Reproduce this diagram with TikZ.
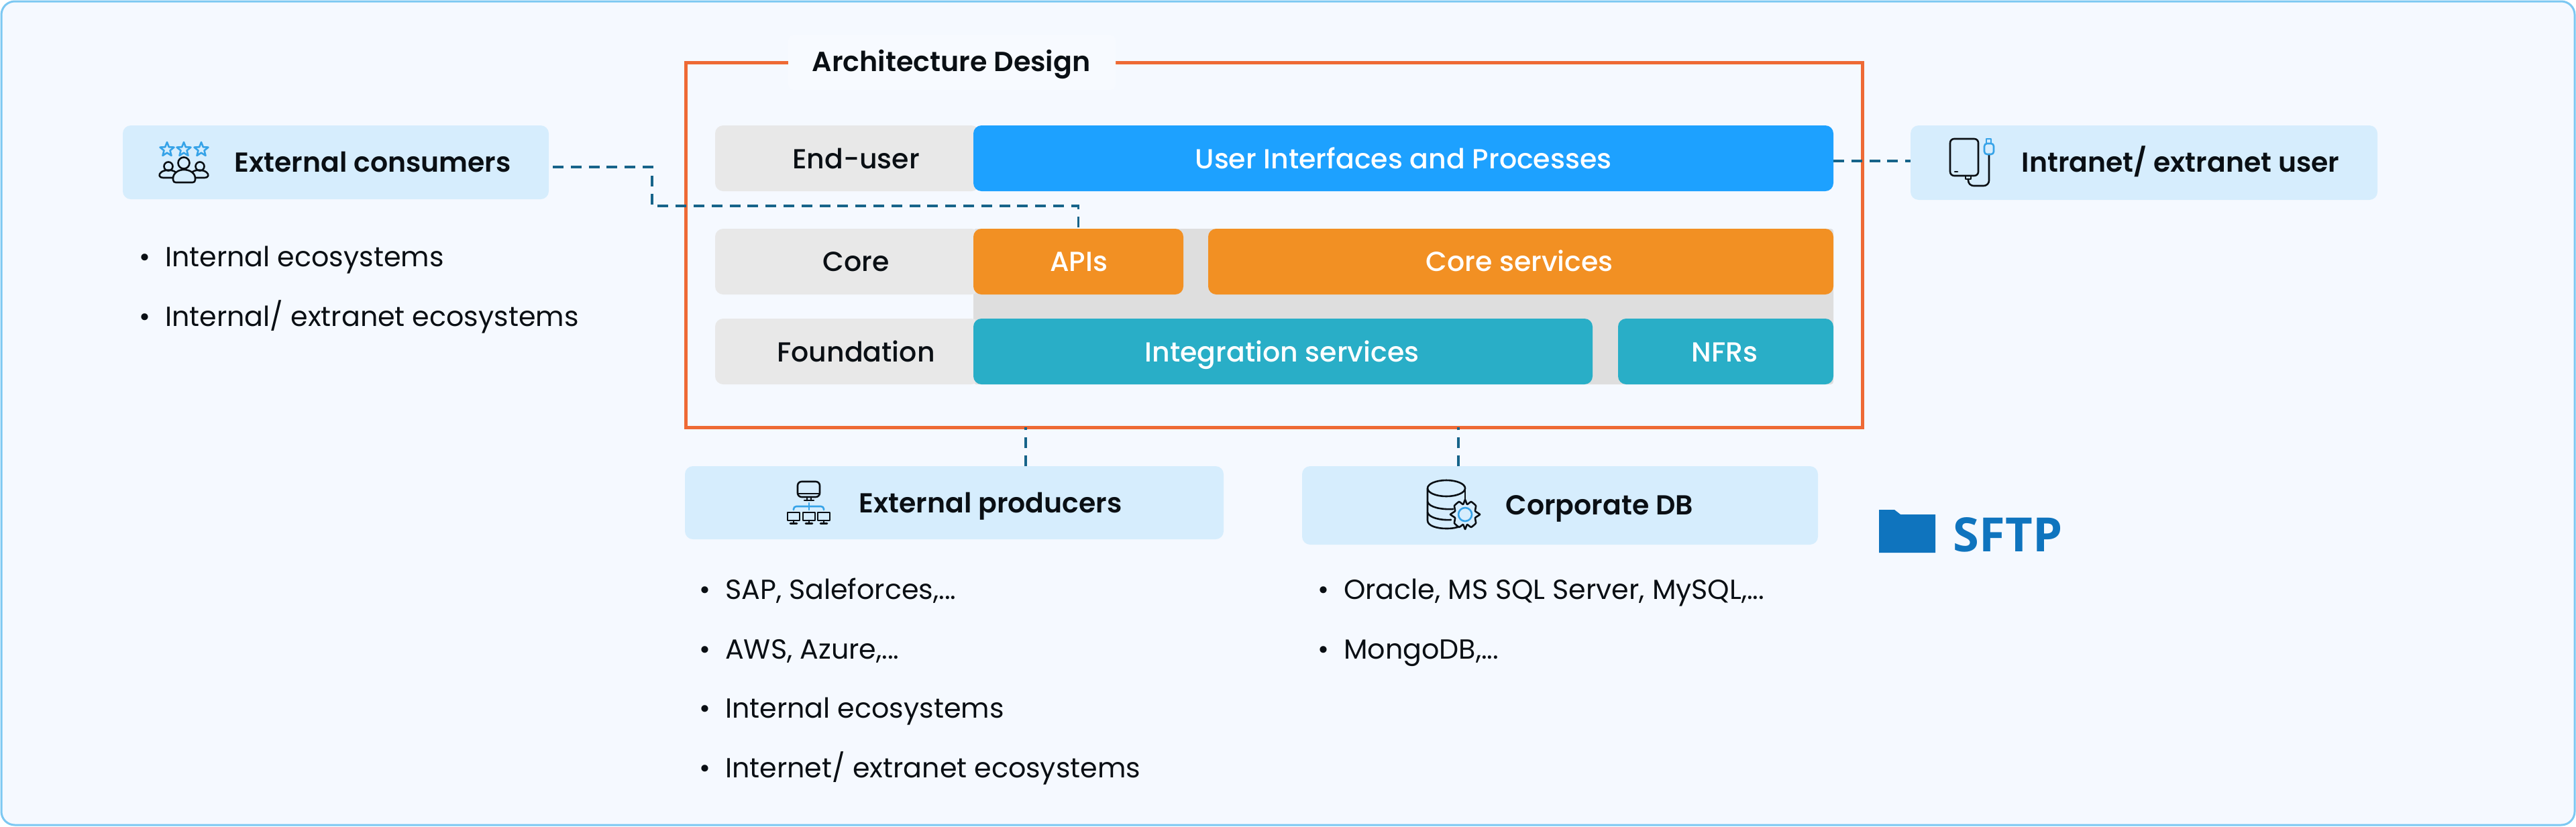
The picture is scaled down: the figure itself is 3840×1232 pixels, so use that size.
\documentclass[tikz,border=0pt]{standalone}
\usepackage{fontspec}
\setmainfont{Poppins}[BoldFont={Poppins SemiBold}]
\newfontfamily\medfont{Poppins Medium}
\newfontfamily\sftpfont{Open Sans}
\usetikzlibrary{fit}
\definecolor{pagebg}{HTML}{F5F9FF}
\definecolor{pageline}{HTML}{7CC8F2}
\definecolor{frameor}{HTML}{EE6A35}
\definecolor{graylab}{HTML}{E8E8E8}
\definecolor{graybk}{HTML}{DEDEDE}
\definecolor{uiblue}{HTML}{1DA1FF}
\definecolor{coreor}{HTML}{F29023}
\definecolor{fdteal}{HTML}{29AEC7}
\definecolor{boxblue}{HTML}{D6EDFD}
\definecolor{dashc}{HTML}{17648A}
\definecolor{inkc}{HTML}{0A0F14}
\definecolor{iconblue}{HTML}{36A3E8}
\definecolor{sftpc}{HTML}{0F74BE}
\definecolor{titlebg}{HTML}{F7FAFF}
\tikzset{
  bx/.style={fit={#1},inner sep=0pt,rounded corners=3pt,outer sep=0pt},
  graybox/.style={fill=graylab},
  backbox/.style={fill=graybk,rounded corners=1pt},
  tealbox/.style={fill=fdteal},
  orbox/.style={fill=coreor},
  blubox/.style={fill=uiblue},
  extbox/.style={fill=boxblue},
  lab/.style={anchor=base,inner sep=0pt,text=inkc,font=\medfont\fontsize{10.27}{12}\selectfont},
  wlab/.style={lab,text=white},
  head/.style={anchor=base west,inner sep=0pt,text=inkc,font=\fontsize{10.24}{12}\selectfont\bfseries},
  bul/.style={anchor=base west,inner sep=0pt,text=inkc,font=\fontsize{10.3}{12}\selectfont},
  conn/.style={draw=dashc,line width=0.85pt,dash pattern=on 4pt off 2.7pt},
  ic/.style={draw=inkc,line width=0.65pt,line join=round,line cap=round},
  icb/.style={draw=iconblue,line width=0.65pt,line join=round,line cap=round},
}
\newcommand{\bu}[1]{\makebox[9.6pt][l]{•}#1}
\begin{document}
\begin{tikzpicture}[x=0.25pt,y=-0.25pt]
\useasboundingbox (0,0) rectangle (3840,1232);
\fill[white] (0,0) rectangle (3840,1232);
\draw[fill=pagebg,draw=pageline,line width=0.75pt,rounded corners=5pt] (2,2) rectangle (3838,1230);
% frame
\node[bx={(1022,93) (2776,637)},draw=frameor,line width=1.25pt,rounded corners=0pt] (frame) {};
\node[bx={(1175,52) (1663,134)},fill=titlebg,rounded corners=2pt] (titlebox) {};
\node[anchor=base,inner sep=0pt,text=inkc,font=\fontsize{10.3}{12}\selectfont\bfseries] (title) at (1418,106) {Architecture Design};
% gray backing
\node[bx={(1451,341) (2733,573)},backbox] (back) {};
\node[bx={(1066,187) (1460,285)},graybox] (gend) {};
\node[bx={(1066,341) (1460,439)},graybox] (gcore) {};
\node[bx={(1066,475) (1460,573)},graybox] (gfound) {};
\node[bx={(1451,187) (2733,285)},blubox] (ui) {};
\node[bx={(1451,341) (1764,439)},orbox] (apis) {};
\node[bx={(1801,341) (2733,439)},orbox] (coresvc) {};
\node[bx={(1451,475) (2374,573)},tealbox] (integ) {};
\node[bx={(2412,475) (2733,573)},tealbox] (nfrs) {};
\node[lab] (l1) at (1276,251) {End-user};
\node[lab] (l2) at (1276,404) {Core};
\node[lab] (l3) at (1276,539) {Foundation};
\node[wlab] (t1) at (2092,251) {User Interfaces and Processes};
\node[wlab] (t2) at (1608,404) {APIs};
\node[wlab] (t3) at (2265,404) {Core services};
\node[wlab] (t4) at (1911,539) {Integration services};
\node[wlab] (t5) at (2571,539) {NFRs};
% external boxes
\node[bx={(183,187) (818,297)},extbox] (consumers) {};
\node[bx={(2848,187) (3544,298)},extbox] (intranet) {};
\node[bx={(1021,695) (1824,804)},extbox] (producers) {};
\node[bx={(1941,695) (2710,812)},extbox] (corpdb) {};
\node[head] (h1) at (349,256) {External consumers};
\node[head] (h2) at (3013,256) {Intranet/ extranet user};
\node[head] (h3) at (1280,764) {External producers};
\node[head] (h4) at (2244,767) {Corporate DB};
% connectors
\coordinate (kneeA) at (972,249);
\coordinate (kneeB) at (972,307);
\coordinate (uiport) at (2733,240);
\draw[conn] ([shift={(6,7)}]consumers.east) -- (kneeA) -- (kneeB) -| (apis.north);
\draw[conn] (uiport) -- (uiport -| intranet.west);
\draw[conn] (1529,695) -- (1529,637);
\draw[conn] (2174,695) -- (2174,637);
% bullets
\node[bul] (b1) at (207,397) {\bu{Internal ecosystems}};
\node[bul] (b2) at (207,486) {\bu{Internal/ extranet ecosystems}};
\node[bul] (b3) at (1042,893) {\bu{SAP, Saleforces,...}};
\node[bul] (b4) at (1042,982) {\bu{AWS, Azure,...}};
\node[bul] (b5) at (1042,1070) {\bu{Internal ecosystems}};
\node[bul] (b6) at (1042,1159) {\bu{Internet/ extranet ecosystems}};
\node[bul] (b7) at (1964,893) {\bu{Oracle, MS SQL Server, MySQL,...}};
\node[bul] (b8) at (1964,982) {\bu{MongoDB,...}};
% icon: consumers
\foreach \cx in {249,274,300}{
  \draw[icb] (\cx,212) -- ({\cx+2.8},{219.2}) -- ({\cx+10.5},{219.6}) -- ({\cx+4.5},{224.4}) -- ({\cx+6.5},{232}) -- (\cx,{227.8}) -- ({\cx-6.5},{232}) -- ({\cx-4.5},{224.4}) -- ({\cx-10.5},{219.6}) -- ({\cx-2.8},{219.2}) -- cycle;
}
\draw[ic] (251,248) circle[radius=6.5];
\draw[ic] (298,248) circle[radius=6.5];
\draw[ic] (262,265) -- (243,265) .. controls (237,265) and (236,260) .. (240,257) .. controls (244,253) and (257,252) .. (262,257);
\draw[ic] (286,265) -- (305,265) .. controls (311,265) and (312,260) .. (308,257) .. controls (304,253) and (291,252) .. (286,257);
\draw[ic] (274,243) circle[radius=8.5];
\draw[ic,fill=boxblue] (258,266) .. controls (258,258) and (266,253) .. (274,253) .. controls (283,253) and (291,258) .. (291,266) -- (291,268) .. controls (291,271) and (289,272) .. (287,272) -- (262,272) .. controls (260,272) and (258,271) .. (258,268) -- cycle;
% icon: intranet
\draw[ic,rounded corners=1.5pt] (2907,207) rectangle (2949,262);
\draw[ic] (2914,256) -- (2918,256);
\draw[ic] (2930,263) -- (2930,267) -- (2938,267) -- (2938,263);
\draw[ic,rounded corners=2pt] (2934,267) -- (2934,277) -- (2965,277) -- (2965,230);
\draw[icb,rounded corners=1pt] (2958,214) rectangle (2972,230);
\draw[icb] (2961,214) -- (2961,207) -- (2968,207) -- (2968,214);
% icon: producers
\draw[ic,rounded corners=1.5pt] (1189,718) rectangle (1222,741);
\draw[ic] (1189,736) -- (1222,736);
\draw[ic] (1203,741) -- (1203,746) (1209,741) -- (1209,746) (1199,746) -- (1213,746);
\draw[icb,rounded corners=1pt] (1183,760) -- (1183,755) -- (1228,755) -- (1228,760);
\draw[icb] (1206,750) -- (1206,760);
\foreach \cx in {1183,1206,1228}{
  \draw[ic] ({\cx-9},764) rectangle ({\cx+9},776);
  \draw[ic] (\cx,776) -- (\cx,780) ({\cx-5},780.5) -- ({\cx+5},780.5);
}
% icon: db
\draw[ic] (2156,728) ellipse[x radius=28,y radius=12];
\draw[ic] (2128,728) -- (2128,776) .. controls (2128,784) and (2142,788) .. (2156,788) .. controls (2164,788) and (2172,787) .. (2178,784);
\draw[ic] (2184,728) -- (2184,745);
\draw[ic] (2128,748) .. controls (2130,756) and (2148,760) .. (2166,759);
\draw[ic] (2128,764) .. controls (2130,772) and (2148,776) .. (2163,775);
\draw[ic,fill=boxblue] plot[smooth cycle,tension=0.25] coordinates {
 (2206,767) (2199,772) (2200,780) (2193,786) (2187,782) (2184,789) (2181,782) (2175,786) (2168,780) (2169,772) (2162,767) (2169,762) (2168,754) (2175,748) (2181,752) (2184,745) (2187,752) (2193,748) (2200,754) (2199,762)};
\draw[icb] (2184,767) circle[radius=10];
% sftp
\fill[sftpc] (2801,760) -- (2824,760) -- (2833,767) -- (2885,767) -- (2885,824) -- (2801,824) -- cycle;
\node[anchor=base west,inner sep=0pt,text=sftpc,font=\sftpfont\bfseries\fontsize{17.6}{20}\selectfont] (sftp) at (2911,822) {SFTP};
\end{tikzpicture}
\end{document}
